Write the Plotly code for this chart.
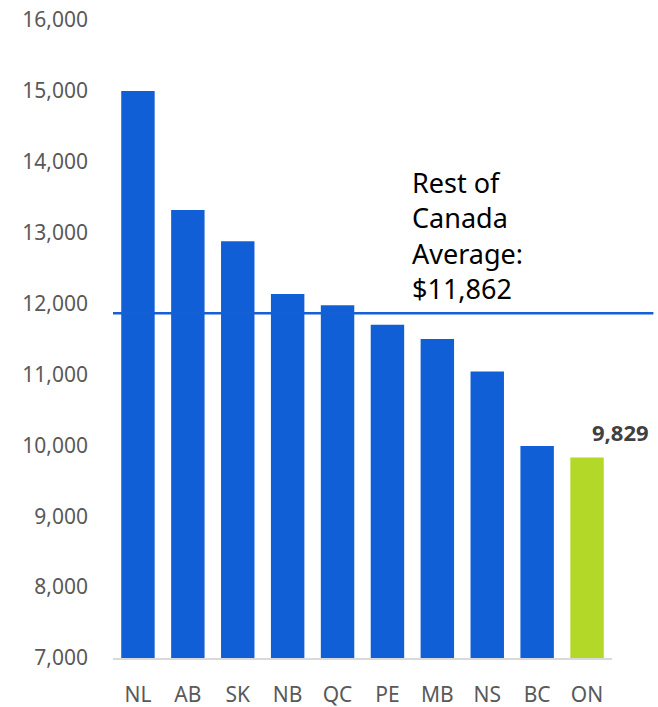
import plotly.graph_objects as go

# Provinces and per-capita values
provinces = ["NL", "AB", "SK", "NB", "QC", "PE", "MB", "NS", "BC", "ON"]
values = [15000, 13320, 12880, 12135, 11975, 11700, 11500, 11040, 9990, 9829]
bar_colors = ["#115FD6"] * 9 + ["#B4D827"]

rest_avg = 11862
avg_label_lines = ["Rest of", "Canada", "Average:", "$11,862"]

y_ticks = list(range(7000, 16001, 1000))
y_tick_text = [f"{v:,}" for v in y_ticks]

FONT = "Noto Sans"

fig = go.Figure()
fig.add_trace(go.Bar(
    x=provinces,
    y=values,
    marker=dict(color=bar_colors, line=dict(width=0)),
    hoverinfo="x+y",
))

# Rest-of-Canada average line, running past the plot area to the right
fig.add_shape(
    type="line", xref="paper", yref="y",
    x0=0, x1=1.083, y0=rest_avg, y1=rest_avg,
    line=dict(color="#1560D4", width=2.5),
)

# Average label, one line per annotation to control the spacing
n = len(avg_label_lines)
for i, line in enumerate(avg_label_lines):
    fig.add_annotation(
        xref="paper", yref="y", x=0.595, y=rest_avg,
        yshift=24.5 + (n - 1 - i) * 35.5,
        text=line, showarrow=False, xanchor="left", yanchor="middle",
        font=dict(family=FONT, size=27, color="#000000"),
    )

# Value label for Ontario
fig.add_annotation(
    x=provinces[-1], y=values[-1], text=f"<b>{values[-1]:,}</b>",
    showarrow=False, xshift=33, yanchor="middle", yshift=25,
    font=dict(family=FONT, size=22, color="#404040"),
)

fig.update_layout(
    width=658, height=707,
    margin=dict(l=113, r=46, t=20, b=49, autoexpand=False),
    paper_bgcolor="white", plot_bgcolor="white",
    bargap=0.33, showlegend=False,
    font=dict(family=FONT, color="#595959", size=21),
)
fig.update_xaxes(
    range=[-0.5, len(provinces) - 0.5],
    showgrid=False, showline=True, linecolor="#D9D9D9", linewidth=1.5,
    ticks="", ticklabelstandoff=17, tickfont=dict(size=21, color="#595959"),
)
fig.update_yaxes(
    range=[7000, 16000], tickvals=y_ticks, ticktext=y_tick_text,
    showgrid=False, showline=False, zeroline=False, ticks="",
    ticklabelstandoff=24, tickfont=dict(size=21, color="#595959"),
)

fig.write_html("out.html")
